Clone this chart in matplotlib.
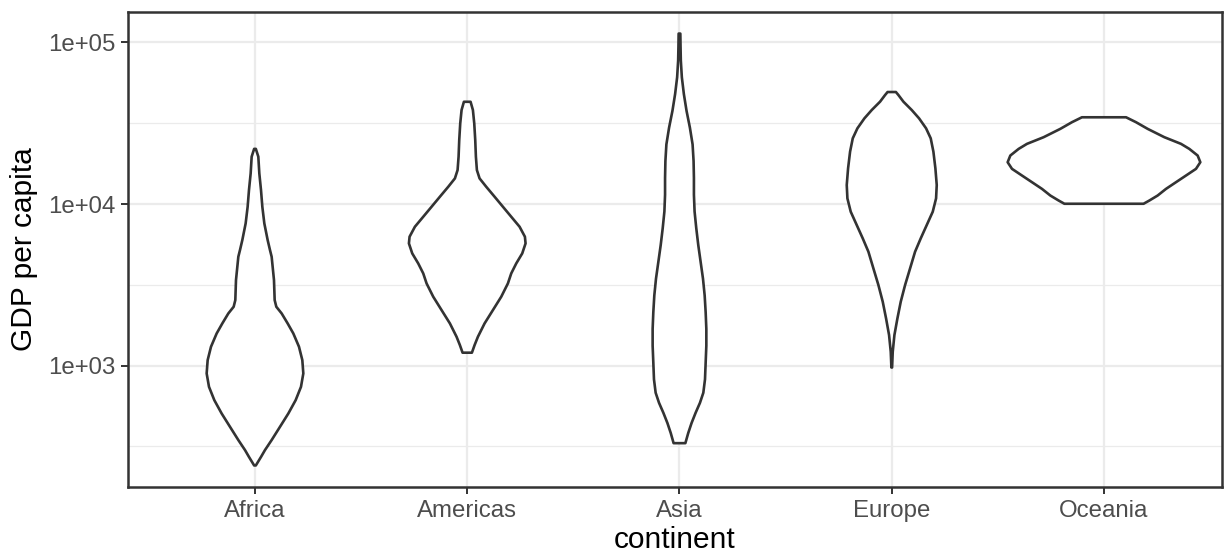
import numpy as np
import matplotlib
matplotlib.use("Agg")
import matplotlib.pyplot as plt
from matplotlib.ticker import FixedLocator, NullFormatter

# ---- data: outline of each violin (GDP value, half-width in category units)
categories = ["Africa", "Americas", "Asia", "Europe", "Oceania"]

africa_gdp = [21950, 19630, 15480, 12210, 9623, 7590, 5983, 5188, 4717, 4091, 3382, 2543, 2313,
              2103, 1824, 1581, 1308, 1081, 894, 739, 611, 505, 418, 346, 300, 272, 241]
africa_hw = [0.004, 0.0157, 0.0204, 0.0283, 0.0346, 0.0440, 0.0597, 0.0707, 0.0785, 0.0832, 0.0895,
             0.0927, 0.1005, 0.1256, 0.1539, 0.1806, 0.2073, 0.2230, 0.2277, 0.2167, 0.1916, 0.1570,
             0.1178, 0.0785, 0.0471, 0.0283, 0.004]

americas_gdp = [42950, 38190, 31570, 24900, 19630, 16230, 14410, 12790, 11100, 9623, 8343, 7236,
                6276, 5706, 4947, 4289, 3720, 3226, 2668, 2205, 1824, 1508, 1339, 1202]
americas_hw = [0.0157, 0.0267, 0.0330, 0.0377, 0.0408, 0.0455, 0.0581, 0.0895, 0.1288, 0.1680,
               0.2073, 0.2466, 0.2717, 0.2748, 0.2591, 0.2309, 0.2073, 0.1916, 0.1602, 0.1209,
               0.0817, 0.0503, 0.0346, 0.022]

asia_gdp = [113523, 93700, 77360, 60910, 47970, 37760, 29730, 23400, 18430, 14500, 11420, 8990,
            7077, 5571, 4385, 3452, 2718, 2140, 1685, 1327, 1044, 822, 679, 588, 510, 441, 382, 331]
asia_hw = [0.004, 0.005, 0.0063, 0.0111, 0.0206, 0.0332, 0.0490, 0.0617, 0.0664, 0.0680, 0.0680,
           0.0711, 0.0791, 0.0885, 0.0996, 0.1107, 0.1186, 0.1233, 0.1265, 0.1265, 0.1233, 0.1202,
           0.1123, 0.0964, 0.0759, 0.0569, 0.0411, 0.0277]

europe_gdp = [49360, 47290, 43010, 38190, 33910, 29410, 25500, 21090, 16620, 13110, 10840, 8963,
              7410, 6129, 5067, 3995, 3150, 2484, 1958, 1545, 1218, 973]
europe_hw = [0.0196, 0.0314, 0.0550, 0.0942, 0.1288, 0.1618, 0.1837, 0.1963, 0.2057, 0.2120,
             0.2089, 0.1932, 0.1649, 0.1366, 0.1099, 0.0864, 0.0628, 0.0424, 0.0267, 0.0126,
             0.0047, 0.0016]

oceania_gdp = [34435, 32110, 29200, 25930, 23580, 21950, 19960, 18150, 16510, 15010, 13650,
               12410, 11290, 10510, 10040]
oceania_hw = [0.1040, 0.1508, 0.2057, 0.2843, 0.3628, 0.4020, 0.4413, 0.4539, 0.4334, 0.3863,
              0.3392, 0.2921, 0.2528, 0.2136, 0.1865]

y_ticks = [1e3, 1e4, 1e5]
y_tick_labels = ["1e+03", "1e+04", "1e+05"]
y_minor = [10 ** 2.5, 10 ** 3.5, 10 ** 4.5]

outlines = [(africa_gdp, africa_hw), (americas_gdp, americas_hw), (asia_gdp, asia_hw),
            (europe_gdp, europe_hw), (oceania_gdp, oceania_hw)]

# ---- figure
plt.rcParams["font.family"] = ["Liberation Sans", "DejaVu Sans"]
W, H = 1225, 555
fig = plt.figure(figsize=(W / 100, H / 100), dpi=100)
ax = fig.add_axes([128 / W, 68 / H, 1094 / W, 475 / H])

ax.set_yscale("log")
ax.set_ylim(10 ** 2.2485, 10 ** 5.1887)
ax.set_xlim(0.4017, 5.556)

for i, (gdp, hw) in enumerate(outlines):
    c = i + 1
    g = np.asarray(gdp, dtype=float)
    w = np.asarray(hw, dtype=float)
    xs = np.concatenate([c - w, (c + w)[::-1]])
    ys = np.concatenate([g, g[::-1]])
    ax.fill(xs, ys, facecolor="white", edgecolor="#333333", linewidth=1.9,
            joinstyle="round", zorder=3)

ax.set_xticks(range(1, len(categories) + 1))
ax.set_xticklabels(categories)
ax.yaxis.set_major_locator(FixedLocator(y_ticks))
ax.set_yticklabels(y_tick_labels)
ax.yaxis.set_minor_locator(FixedLocator(y_minor))
ax.yaxis.set_minor_formatter(NullFormatter())

ax.grid(True, which="major", color="#EBEBEB", linewidth=1.6, zorder=0)
ax.grid(True, which="minor", axis="y", color="#EBEBEB", linewidth=0.9, zorder=0)
ax.set_axisbelow(True)

ax.tick_params(which="major", length=5, width=1.4, color="#333333",
               labelcolor="#4D4D4D", labelsize=17.3)
ax.tick_params(axis="x", pad=4.5)
ax.tick_params(axis="y", pad=4)
ax.tick_params(which="minor", length=0)

for s in ax.spines.values():
    s.set_color("#333333")
    s.set_linewidth(1.8)
    s.set_zorder(5)

ax.set_xlabel("continent", fontsize=21.5, color="black", labelpad=3)
ax.set_ylabel("GDP per capita", fontsize=21.5, color="black", labelpad=7)

fig.savefig("out.png", dpi=100, facecolor="white")
